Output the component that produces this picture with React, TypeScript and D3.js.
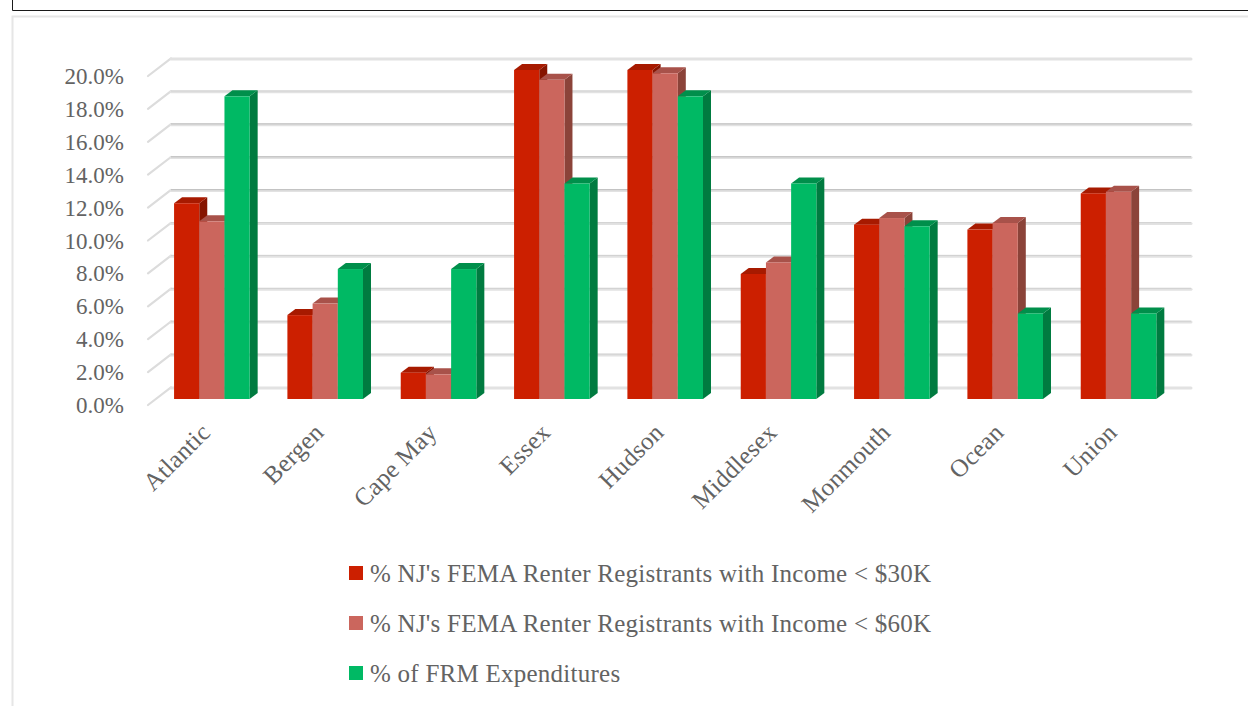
import React, { useEffect, useRef } from 'react';
import * as d3 from 'd3';

const categories = ['Atlantic', 'Bergen', 'Cape May', 'Essex', 'Hudson', 'Middlesex', 'Monmouth', 'Ocean', 'Union'];
const under30k = [11.9, 5.1, 1.6, 20.0, 20.0, 7.6, 10.6, 10.3, 12.5];
const under60k = [10.8, 5.8, 1.5, 19.4, 19.8, 8.3, 11.0, 10.7, 12.6];
const frmExpenditures = [18.4, 7.9, 7.9, 13.1, 18.4, 13.1, 10.5, 5.2, 5.2];
const yTicks = [0, 2, 4, 6, 8, 10, 12, 14, 16, 18, 20];

const seriesNames = [
  "% NJ's FEMA Renter Registrants with Income < $30K",
  "% NJ's FEMA Renter Registrants with Income < $60K",
  '% of FRM Expenditures',
];
const seriesValues = [under30k, under60k, frmExpenditures];
const front = ['#cc1f00', '#cb665d', '#00b964'];
const side = ['#861400', '#8b4339', '#007b40'];
const top = ['#a71a00', '#a8524a', '#008f4b'];

const FONT = '"Liberation Serif", serif';
const TEXT = '#636363';

export default function App() {
  const ref = useRef<SVGSVGElement>(null);

  useEffect(() => {
    const svg = d3.select(ref.current);
    svg.selectAll('*').remove();

    // page frames
    svg.append('path').attr('d', 'M12.5,-2V10.5H1250').attr('fill', 'none').attr('stroke', '#1a1a1a').attr('stroke-width', 1);
    svg.append('path').attr('d', 'M12.5,710V16.5H1250').attr('fill', 'none').attr('stroke', '#e6e6e6').attr('stroke-width', 2);

    // front plane of the axis box, back wall is offset by depth
    const x = d3.scaleBand<string>().domain(categories).range([148, 1168]);
    const y = d3.scaleLinear().domain([0, 20]).range([405, 76]);
    const depthX = 23;
    const depthY = -17.7;
    const barOffX = 7.2;
    const barOffY = -6;
    const barDx = 8;
    const barDy = -6;
    const barW = 25.2;

    const grid = svg.append('g');
    yTicks.forEach((t) => {
      const yy = y(t);
      const dark = t >= 12 && t <= 16;
      const line = d3.line();
      grid.append('path')
        .attr('d', line([[148, yy], [148 + depthX, yy + depthY]]))
        .attr('stroke', '#dcdcdc').attr('stroke-width', 2.2).attr('stroke-linecap', 'round').attr('fill', 'none');
      grid.append('path')
        .attr('d', line([[148 + depthX, yy + depthY + 0.6], [1168 + depthX, yy + depthY + 0.6]]))
        .attr('stroke', '#e2e2e2').attr('stroke-width', 3).attr('stroke-linecap', 'round').attr('fill', 'none');
      if (t > 0 && t < 20) {
        grid.append('path')
          .attr('d', line([[148 + depthX, yy + depthY - 0.2], [1168 + depthX, yy + depthY - 0.2]]))
          .attr('stroke', dark ? '#bcbcbc' : '#d2d2d2').attr('stroke-width', 1).attr('fill', 'none');
      }
    });

    // bars, painted left to right so the next bar covers the side face
    const poly = d3.line();
    categories.forEach((c, i) => {
      const center = (x(c) as number) + x.bandwidth() / 2 + barOffX;
      seriesValues.forEach((vals, s) => {
        const x0 = center - (barW * 3) / 2 + s * barW;
        const x1 = x0 + barW;
        const yTop = y(vals[i]) + barOffY;
        const yBase = y(0) + barOffY;
        const g = svg.append('g');
        g.append('path')
          .attr('d', poly([[x1, yTop], [x1 + barDx, yTop + barDy], [x1 + barDx, yBase + barDy], [x1, yBase]]) + 'Z')
          .attr('fill', side[s]);
        g.append('path')
          .attr('d', poly([[x0, yTop], [x0 + barDx, yTop + barDy], [x1 + barDx, yTop + barDy], [x1, yTop]]) + 'Z')
          .attr('fill', top[s]);
        g.append('rect')
          .attr('x', x0).attr('y', yTop).attr('width', barW).attr('height', yBase - yTop)
          .attr('fill', front[s]);
      });
    });

    // y labels
    yTicks.forEach((t) => {
      svg.append('text')
        .attr('x', 124).attr('y', y(t) + 8)
        .attr('text-anchor', 'end')
        .attr('font-family', FONT).attr('font-size', 23).attr('fill', TEXT)
        .text(`${t.toFixed(1)}%`);
    });

    // category labels
    categories.forEach((c) => {
      const cx = (x(c) as number) + x.bandwidth() / 2 + 8;
      svg.append('text')
        .attr('transform', `translate(${cx - 1},${434}) rotate(-45)`)
        .attr('text-anchor', 'end')
        .attr('font-family', FONT).attr('font-size', 25).attr('letter-spacing', 0.25).attr('fill', TEXT)
        .text(c);
    });

    // legend
    seriesNames.forEach((n, s) => {
      const ly = 566 + s * 50;
      svg.append('rect').attr('x', 349).attr('y', ly).attr('width', 14).attr('height', 14).attr('fill', front[s]);
      svg.append('text')
        .attr('x', 370).attr('y', ly + 16)
        .attr('font-family', FONT).attr('font-size', 25).attr('letter-spacing', 0.25).attr('fill', TEXT)
        .text(n);
    });
  }, []);

  return (
    <svg
      ref={ref}
      width={1248}
      height={706}
      style={{ position: 'absolute', left: 0, top: 0, background: '#fff' }}
    />
  );
}
